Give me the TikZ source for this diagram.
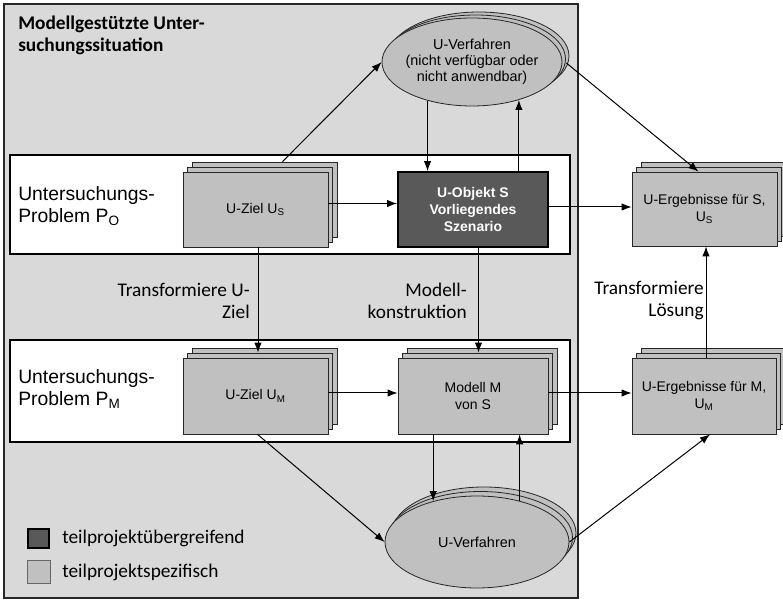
\documentclass[tikz,border=0pt]{standalone}
\usepackage{fontspec}
\setmainfont{Liberation Sans}
\newfontfamily\calfont{Carlito}
\usetikzlibrary{shapes.geometric,arrows.meta,calc}

\definecolor{panelgray}{HTML}{D9D9D9}
\definecolor{boxgray}{HTML}{C0C0C0}
\definecolor{objgray}{HTML}{595959}
\definecolor{edgegray}{HTML}{262626}

\newcommand\myboxfont{\fontsize{10.5}{12.8}\selectfont}
\newcommand\myobjfont{\fontsize{10.5}{12.8}\selectfont\bfseries}
\newcommand\myellfont{\fontsize{10.8}{12}\selectfont}
\newcommand\myprobfont{\fontsize{14.5}{16.5}\selectfont}
\newcommand\mylblfont{\calfont\fontsize{14.5}{16.5}\selectfont}
\newcommand\mytitlefont{\calfont\bfseries\fontsize{14.5}{16.5}\selectfont}

% stacked card: name, x, y, width, height, text
\newcommand\stackbox[6]{%
  \node[card, minimum width={#4*0.75pt}, minimum height={#5*0.75pt}] (#1b2) at (#2+9,#3-10) {};
  \node[card, minimum width={#4*0.75pt}, minimum height={#5*0.75pt}] (#1b1) at (#2+4.5,#3-5) {};
  \node[card, minimum width={#4*0.75pt}, minimum height={#5*0.75pt}] (#1) at (#2,#3) {#6};}

% stacked ellipse: name, x, y, width, height, dx, dy
\newcommand\stackell[7]{%
  \node[ell, minimum width={#4*0.75pt}, minimum height={#5*0.75pt}] (#1b2) at (#2+2*#6,#3-2*#7) {};
  \node[ell, minimum width={#4*0.75pt}, minimum height={#5*0.75pt}] (#1b1) at (#2+#6,#3-#7) {};
  \node[ell, minimum width={#4*0.75pt}, minimum height={#5*0.75pt}] (#1) at (#2,#3) {};}

\begin{document}
\begin{tikzpicture}[x=0.75pt,y=-0.75pt,
  panel/.style={draw=edgegray, fill=panelgray, line width=1pt},
  band/.style={draw=black, fill=white, line width=0.9pt},
  card/.style={draw=edgegray, fill=boxgray, line width=0.6pt, inner sep=0pt, align=center, font=\myboxfont},
  objbox/.style={draw=black, fill=objgray, line width=1.4pt, inner sep=0pt, align=center, text=white, font=\myobjfont},
  ell/.style={ellipse, draw=edgegray, fill=boxgray, line width=0.6pt, inner sep=0pt},
  elltext/.style={align=center, font=\myellfont, inner sep=0pt},
  arr/.style={-{Latex[length=7.5pt,width=5.6pt]}, line width=0.75pt},
  problbl/.style={align=left, anchor=west, font=\myprobfont, inner sep=0pt},
  lbl/.style={align=right, anchor=east, font=\mylblfont, inner sep=0pt},
  legtext/.style={anchor=west, font=\mylblfont, inner sep=0pt}]

\useasboundingbox (0,0) rectangle (783,602);

% grey panel of the model-based situation and the two problem bands
\path[panel] (4,4) rectangle (578,598);
\path[band] (10,155) rectangle (570,254);
\path[band] (10,340) rectangle (570,442);

\node[anchor=north west, align=left, font=\mytitlefont, inner sep=0pt] (title) at (18,16)
  {Modellgestützte Unter-\\suchungssituation};

\node[problbl] (po) at (18,206) {Untersuchungs-\\Problem P\textsubscript{O}};
\node[problbl] (pm) at (18,389) {Untersuchungs-\\Problem P\textsubscript{M}};

% cards
\stackbox{uzs}{255.5}{209.5}{145}{75}{U-Ziel U\textsubscript{S}}
\node[objbox, minimum width={150*0.75pt}, minimum height={75*0.75pt}] (uo) at (473,209.5)
  {U-Objekt S\\Vorliegendes\\Szenario};
\stackbox{ers}{704.5}{209}{145}{74}{U-Ergebnisse für S,\\U\textsubscript{S}}
\stackbox{uzm}{255.5}{396}{145}{76}{U-Ziel U\textsubscript{M}}
\stackbox{mm}{473}{396}{150}{76}{Modell M\\von S}
\stackbox{erm}{704}{396}{144}{76}{U-Ergebnisse für M,\\U\textsubscript{M}}

% methods
\stackell{ev1}{472}{62}{180}{88}{3.5}{3}
\node[elltext] (ev1t) at (ev1) {U-Verfahren\\(nicht verfügbar oder\\nicht anwendbar)};
\stackell{ev2}{477}{542}{184}{92}{3.5}{4.5}
\node[elltext] (ev2t) at (ev2) {U-Verfahren};

% connectors, upper band
\draw[arr] ($(uzsb2.north)+(18,0)$) -- (ev1.west);
\draw[arr] (ev1.221) -- (ev1.221 |- uo.north);
\draw[arr] (ev1.321 |- uo.north) -- (ev1.321);
\draw[arr] ($(uzs.east)+(0,-6)$) -- ($(uo.west)+(0,-6)$);
\draw[arr] ($(uo.east)+(0,-2.5)$) -- ($(ers.west)+(0,-2)$);
\draw[arr] ($(ev1.east)+(4,1)$) -- ($(ers.north)+(-6,0)$);

% connectors between the bands
\coordinate (tz) at ($(uzs.south)+(2.5,0)$);
\draw[arr] (tz) -- (tz |- uzmb1.north);
\coordinate (mk) at ($(uo.south)+(5.5,0)$);
\draw[arr] (mk) -- (mk |- mmb1.north);
\coordinate (tl) at ($(erm.north)+(2,0)$);
\draw[arr] (tl) -- (tl |- ers.south);

\node[lbl] (ltz) at (250,301) {Transformiere U-\\Ziel};
\node[lbl] (lmk) at (467,301) {Modell-\\konstruktion};
\node[lbl] (ltl) at (704,301) {Transformiere\\Lösung};

% connectors, lower band
\draw[arr] ($(uzm.east)+(0,-3)$) -- ($(mm.west)+(0,-3)$);
\draw[arr] ($(mm.east)+(0,-3)$) -- ($(erm.west)+(0,-3)$);
\draw[arr] ($(uzm.south)+(2,0)$) -- (ev2.west);
\draw[arr] (ev2.137 |- mm.south) -- (ev2.137);
\draw[arr] (ev2.44) -- (ev2.44 |- mm.south);
\draw[arr] (ev2.east) -- ($(erm.south)+(6,0)$);

% legend
\node[draw=black, fill=objgray, line width=1.4pt, minimum width={21*0.75pt}, minimum height={19*0.75pt}, inner sep=0pt] (lg1) at (38.5,538.5) {};
\node[draw=black!60, fill=boxgray, line width=0.6pt, minimum width={23*0.75pt}, minimum height={23*0.75pt}, inner sep=0pt] (lg2) at (38.5,571.5) {};
\node[legtext] (lg1t) at (62,538) {teilprojektübergreifend};
\node[legtext] (lg2t) at (62,572) {teilprojektspezifisch};
\end{tikzpicture}
\end{document}
